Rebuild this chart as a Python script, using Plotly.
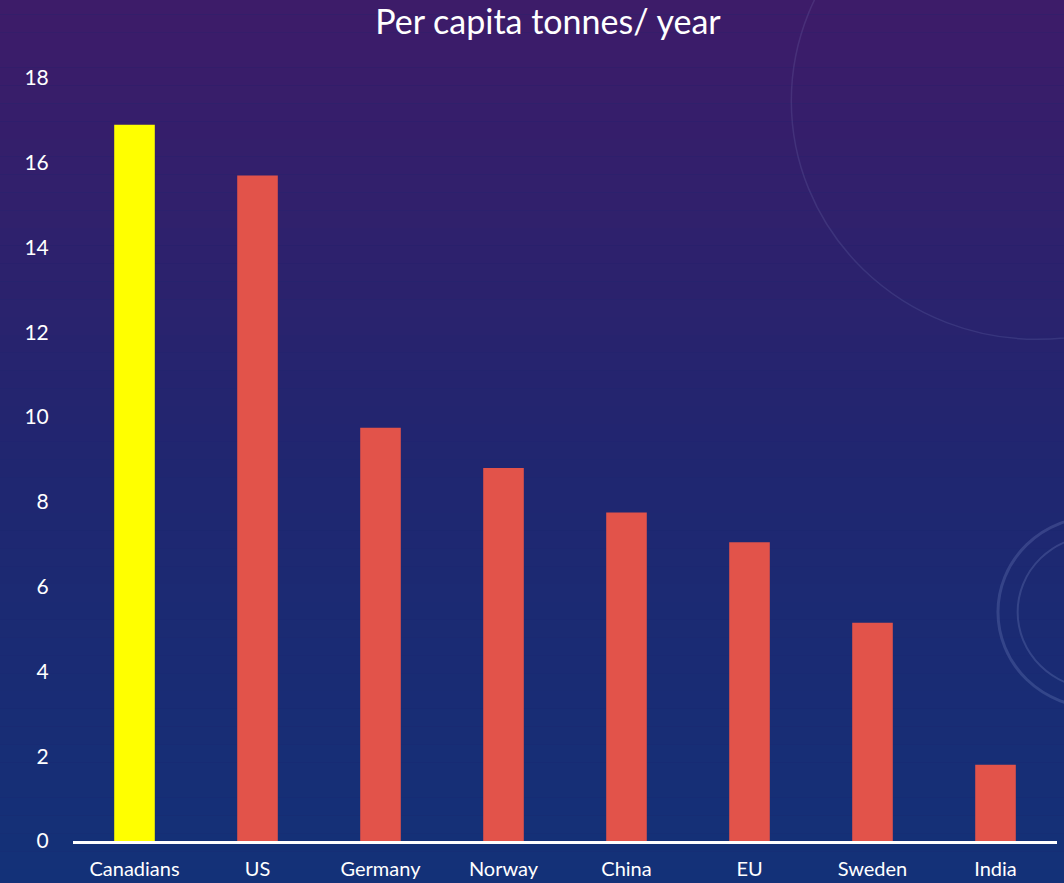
import plotly.graph_objects as go

countries = ["Canadians", "US", "Germany", "Norway", "China", "EU", "Sweden", "India"]
tonnes = [16.9, 15.7, 9.75, 8.8, 7.75, 7.05, 5.15, 1.8]
y_ticks = [0, 2, 4, 6, 8, 10, 12, 14, 16, 18]

YELLOW = "#FFFF00"
RED = "#E2534A"
TOP = (66, 26, 104)      # purple at the top
MID = (32, 38, 112)
BOTTOM = (16, 52, 122)   # blue at the bottom

bar_colours = [YELLOW if c == "Canadians" else RED for c in countries]


def mix(a, b, t):
    return tuple(round(a[i] + (b[i] - a[i]) * t) for i in range(3))


# ── background gradient as thin paper bands ──
shapes = []
n_bands = 60
for i in range(n_bands):
    t = i / (n_bands - 1)
    c = mix(TOP, MID, t / 0.5) if t < 0.5 else mix(MID, BOTTOM, (t - 0.5) / 0.5)
    shapes.append(dict(
        type="rect", xref="paper", yref="paper", layer="below",
        x0=-0.2, x1=1.2, y0=1.2 - (i + 1) * 1.4 / n_bands, y1=1.2 - i * 1.4 / n_bands,
        line=dict(width=0), fillcolor=f"rgb({c[0]},{c[1]},{c[2]})",
    ))

# faint decorative arcs on the right
for cx, cy, r, w, a in [(1.04, 0.30, 0.10, 3, 0.18), (1.04, 0.30, 0.08, 2, 0.18),
                        (0.98, 0.97, 0.25, 1.5, 0.12)]:
    shapes.append(dict(
        type="circle", xref="paper", yref="paper", layer="below",
        x0=cx - r, x1=cx + r, y0=cy - r * 1.25, y1=cy + r * 1.25,
        line=dict(color=f"rgba(170,190,240,{a})", width=w),
    ))

fig = go.Figure()
fig.add_trace(go.Bar(
    x=countries, y=tonnes,
    marker=dict(color=bar_colours, line=dict(width=0)),
    hovertemplate="%{x}: %{y}<extra></extra>",
))

fig.update_layout(
    width=1064, height=883,
    paper_bgcolor="rgb(30,38,112)",
    plot_bgcolor="rgba(0,0,0,0)",
    font=dict(color="white", family="Lato, 'Open Sans', sans-serif", size=21),
    margin=dict(l=73, r=7, t=78, b=42, autoexpand=False),
    title=dict(text="Per capita tonnes/ year", x=0.515, xref="container", xanchor="center",
               y=0.975, yanchor="middle", font=dict(size=34, color="white")),
    bargap=0.67,
    showlegend=False,
    shapes=shapes,
)
fig.update_xaxes(
    showgrid=False, showline=True, linecolor="white", linewidth=3,
    ticks="outside", ticklen=8, tickcolor="rgba(0,0,0,0)",
    tickfont=dict(size=20), automargin=False,
)
fig.update_yaxes(
    range=[0, 18], tickvals=y_ticks, showgrid=False, zeroline=False, showline=False,
    ticks="outside", ticklen=19, tickcolor="rgba(0,0,0,0)",
    tickfont=dict(size=21), automargin=False,
)

fig.write_html("out.html", config={"displayModeBar": False},
               post_script="document.body.style.margin='0';")
